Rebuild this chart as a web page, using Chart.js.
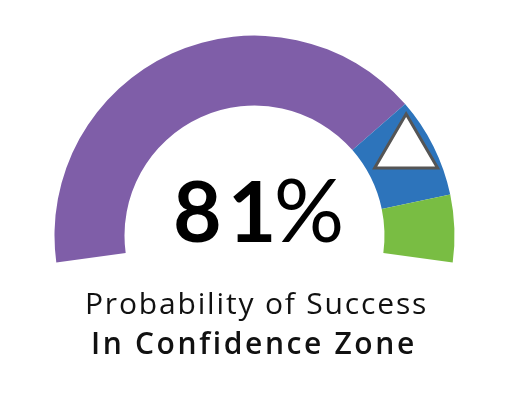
<!DOCTYPE html>
<html>
<head>
<meta charset="utf-8">
<script src="https://cdn.jsdelivr.net/npm/chart.js@4"></script>
<style>
  html, body { margin: 0; padding: 0; background: #fff; }
  #wrap { width: 511px; height: 413px; position: relative; }
</style>
</head>
<body>
<div id="wrap"><canvas id="gauge"></canvas></div>
<script>
// Gauge zones on a 0-100 probability scale
const zoneLabels = ['Below Target', 'Confidence Zone', 'Above Target'];
const zoneValues = [75, 15, 10];
const zoneColors = ['#7F5EA8', '#2D74BB', '#79BD43'];

// Current reading
const probability = 81;
const valueText = String(probability);
const unitText = '%';
const captionLines = ['Probability of Success', 'In Confidence Zone'];

// Arc sweep: a little more than a half circle
const SWEEP = 195.4;

// Draws text so its ink runs from `left` to `right`, spreading the letters
function drawSpread(ctx, text, font, left, right, baseline) {
  ctx.font = font;
  ctx.letterSpacing = '0px';
  const m = ctx.measureText(text);
  const ink = m.actualBoundingBoxLeft + m.actualBoundingBoxRight;
  const gap = text.length > 1 ? (right - left - ink) / (text.length - 1) : 0;
  ctx.letterSpacing = gap + 'px';
  ctx.textAlign = 'left';
  ctx.fillText(text, left + m.actualBoundingBoxLeft, baseline);
  ctx.letterSpacing = '0px';
}

const markerPlugin = {
  id: 'marker',
  afterDatasetsDraw(chart) {
    const meta = chart.getDatasetMeta(0);
    const first = meta.data[0];
    const last = meta.data[meta.data.length - 1];
    const total = zoneValues.reduce((a, b) => a + b, 0);
    const a = first.startAngle + (last.endAngle - first.startAngle) * probability / total;
    const r = first.innerRadius + (first.outerRadius - first.innerRadius) * 0.63;
    const x = first.x + r * Math.cos(a);
    const y = first.y + r * Math.sin(a);
    const w = 63, h = 54;
    const ctx = chart.ctx;
    ctx.save();
    ctx.beginPath();
    ctx.moveTo(x, y - 2 * h / 3);
    ctx.lineTo(x + w / 2, y + h / 3);
    ctx.lineTo(x - w / 2, y + h / 3);
    ctx.closePath();
    ctx.fillStyle = '#ffffff';
    ctx.fill();
    ctx.lineWidth = 3;
    ctx.lineJoin = 'miter';
    ctx.strokeStyle = '#555555';
    ctx.stroke();
    ctx.restore();
  },
  afterDraw(chart) {
    const ctx = chart.ctx;
    ctx.save();
    ctx.textBaseline = 'alphabetic';
    ctx.textAlign = 'left';
    ctx.fillStyle = '#000000';
    // big reading: bold number followed by a lighter percent sign
    ctx.font = 'bold 84px Lato';
    ctx.letterSpacing = '6px';
    const nm = ctx.measureText(valueText);
    ctx.fillText(valueText, 176 + nm.actualBoundingBoxLeft, 242);
    const numRight = 176 + nm.actualBoundingBoxLeft + nm.actualBoundingBoxRight;
    ctx.letterSpacing = '0px';
    ctx.font = '88px Lato';
    const pm = ctx.measureText(unitText);
    ctx.fillText(unitText, numRight + 5 + pm.actualBoundingBoxLeft, 242);
    ctx.fillStyle = '#111111';
    drawSpread(ctx, captionLines[0], '30px "Open Sans"', 87, 425, 314);
    drawSpread(ctx, captionLines[1], '600 30px "Open Sans"', 93, 413, 354);
    ctx.restore();
  }
};

new Chart(document.getElementById('gauge'), {
  type: 'doughnut',
  data: {
    labels: zoneLabels,
    datasets: [{
      data: zoneValues,
      backgroundColor: zoneColors,
      borderWidth: 0
    }]
  },
  options: {
    responsive: true,
    maintainAspectRatio: false,
    animation: false,
    rotation: -SWEEP / 2,
    circumference: SWEEP,
    radius: 200,
    cutout: '65%',
    layout: { padding: { left: 0, right: 2, top: 0, bottom: 115 } },
    plugins: {
      legend: { display: false },
      tooltip: { enabled: false }
    }
  },
  plugins: [markerPlugin]
});
</script>
</body>
</html>
